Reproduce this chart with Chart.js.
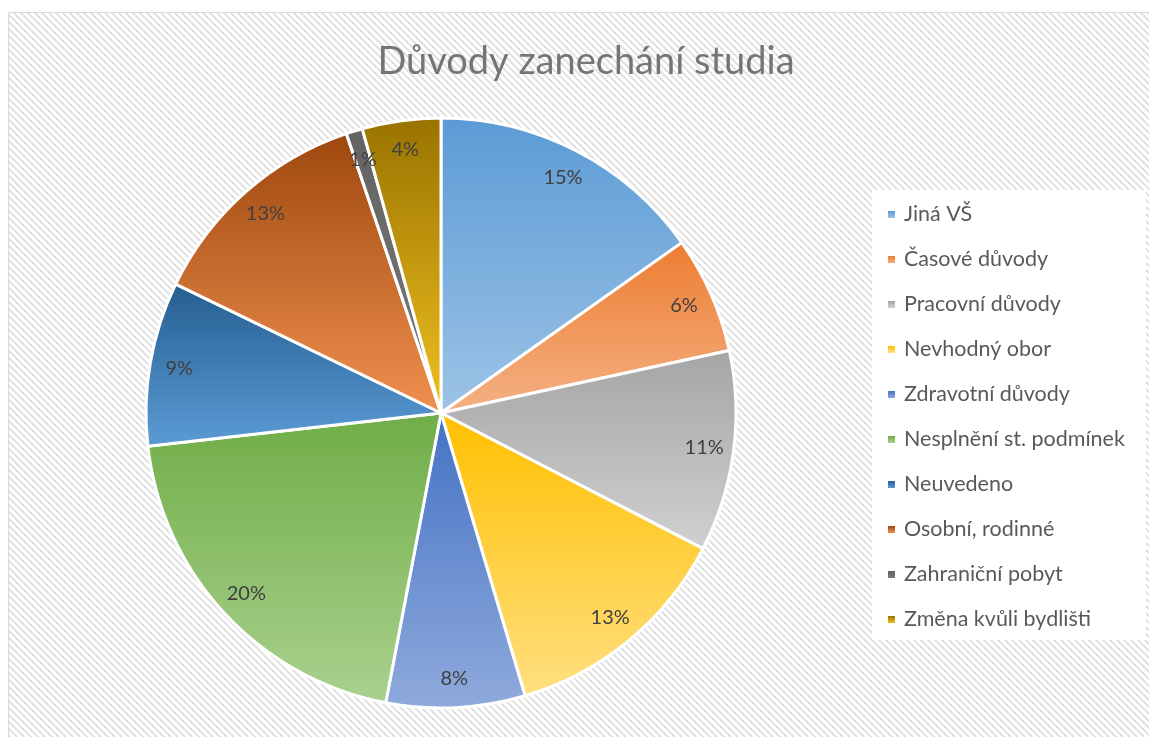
<!DOCTYPE html>
<html>
<head>
<meta charset="utf-8">
<title>Důvody zanechání studia</title>
<script src="https://cdn.jsdelivr.net/npm/chart.js@4.4.1/dist/chart.umd.min.js"></script>
<style>
  html, body { margin: 0; padding: 0; background: #fff; }
  canvas { display: block; }
</style>
</head>
<body>
<canvas id="pieChart" width="1149" height="737"></canvas>
<script>
const chartTitle = 'Důvody zanechání studia';
const categories = ['Jiná VŠ', 'Časové důvody', 'Pracovní důvody', 'Nevhodný obor', 'Zdravotní důvody',
    'Nesplnění st. podmínek', 'Neuvedeno', 'Osobní, rodinné', 'Zahraniční pobyt', 'Změna kvůli bydlišti'];
// share of each reason in %
const shares = [15.2, 6.4, 11.0, 12.8, 7.6, 20.2, 9.0, 12.6, 0.9, 4.3];
// gradient colours, top -> bottom
const topColors = ['#5b9bd5', '#ed7d31', '#a5a5a5', '#ffc000', '#4472c4', '#70ad47', '#255e91', '#9e480e', '#636363', '#997300'];
const bottomColors = ['#9dc3e6', '#f4b183', '#d0d0d0', '#ffdf80', '#8faadc', '#a9d18e', '#5b9bd5', '#f0904f', '#7a7a7a', '#f0c020'];

const FONT = 'Lato, "Open Sans", sans-serif';
const total = shares.reduce((a, b) => a + b, 0);

// vertical extent of a slice, used for its gradient
function sliceExtent(cx, cy, r, a0, a1) {
    const ys = [cy, cy + r * Math.sin(a0), cy + r * Math.sin(a1)];
    [-Math.PI / 2, Math.PI / 2, 3 * Math.PI / 2].forEach(a => {
        if (a >= a0 && a <= a1) ys.push(cy + r * Math.sin(a));
    });
    return [Math.min(...ys), Math.max(...ys)];
}

function sliceFill(ctx) {
    const chart = ctx.chart;
    const area = chart.chartArea;
    const i = ctx.dataIndex;
    if (!area) return topColors[i];
    const cx = (area.left + area.right) / 2;
    const cy = (area.top + area.bottom) / 2;
    const r = 295;
    let before = 0;
    for (let k = 0; k < i; k++) before += shares[k];
    const a0 = -Math.PI / 2 + before / total * Math.PI * 2;
    const a1 = a0 + shares[i] / total * Math.PI * 2;
    const [y0, y1] = sliceExtent(cx, cy, r, a0, a1);
    const g = chart.ctx.createLinearGradient(0, y0, 0, y1);
    g.addColorStop(0, topColors[i]);
    g.addColorStop(1, bottomColors[i]);
    return g;
}

function hatchPattern(ctx) {
    const p = document.createElement('canvas');
    p.width = 7; p.height = 7;
    const pc = p.getContext('2d');
    pc.fillStyle = '#ffffff';
    pc.fillRect(0, 0, 7, 7);
    pc.fillStyle = '#e3e3e3';
    for (let y = 0; y < 7; y++) {
        for (let x = 0; x < 7; x++) {
            if ((x - y + 70) % 7 < 3) pc.fillRect(x, y, 1, 1);
        }
    }
    return ctx.createPattern(p, 'repeat');
}

const backgroundPlugin = {
    id: 'hatchBackground',
    beforeDraw(chart) {
        const c = chart.ctx;
        c.save();
        c.fillStyle = '#ffffff';
        c.fillRect(0, 0, chart.width, chart.height);
        c.fillStyle = hatchPattern(c);
        c.fillRect(8, 12, chart.width - 8, chart.height - 12);
        c.strokeStyle = '#d9d9d9';
        c.lineWidth = 1;
        c.beginPath();
        c.moveTo(8.5, chart.height);
        c.lineTo(8.5, 12.5);
        c.lineTo(chart.width, 12.5);
        c.stroke();

        // title
        c.fillStyle = '#757575';
        c.font = '38px ' + FONT;
        c.textAlign = 'center';
        c.textBaseline = 'alphabetic';
        c.fillText(chartTitle, 586, 74);
        c.restore();
    }
};

const labelPlugin = {
    id: 'sliceLabels',
    afterDatasetsDraw(chart) {
        const c = chart.ctx;
        const meta = chart.getDatasetMeta(0);
        c.save();
        c.fillStyle = '#404040';
        c.font = '20px ' + FONT;
        c.textAlign = 'center';
        c.textBaseline = 'middle';
        meta.data.forEach((arc, i) => {
            const mid = (arc.startAngle + arc.endAngle) / 2;
            const rr = arc.outerRadius * 0.9;
            const pct = Math.round(shares[i] / total * 100) + '%';
            c.fillText(pct, arc.x + rr * Math.cos(mid), arc.y + rr * Math.sin(mid));
        });
        c.restore();
    }
};

const legendPlugin = {
    id: 'sideLegend',
    afterDraw(chart) {
        const c = chart.ctx;
        c.save();
        c.fillStyle = '#ffffff';
        c.fillRect(872, 190, 274, 450);
        c.font = '21.5px ' + FONT;
        c.textAlign = 'left';
        c.textBaseline = 'middle';
        categories.forEach((name, i) => {
            const y = 214 + i * 45;
            const g = c.createLinearGradient(0, y - 3, 0, y + 4);
            g.addColorStop(0, topColors[i]);
            g.addColorStop(1, bottomColors[i]);
            c.fillStyle = g;
            c.fillRect(888, y - 3, 7, 7);
            c.fillStyle = '#595959';
            c.fillText(name, 904, y);
        });
        c.restore();
    }
};

new Chart(document.getElementById('pieChart'), {
    type: 'pie',
    data: {
        labels: categories,
        datasets: [{
            data: shares,
            backgroundColor: sliceFill,
            borderColor: '#ffffff',
            borderWidth: 3,
            radius: 295
        }]
    },
    options: {
        responsive: false,
        animation: false,
        devicePixelRatio: 1,
        layout: { padding: { left: 146, right: 413, top: 118, bottom: 29 } },
        plugins: {
            legend: { display: false },
            title: { display: false },
            tooltip: { enabled: false }
        }
    },
    plugins: [backgroundPlugin, labelPlugin, legendPlugin]
});
</script>
</body>
</html>
